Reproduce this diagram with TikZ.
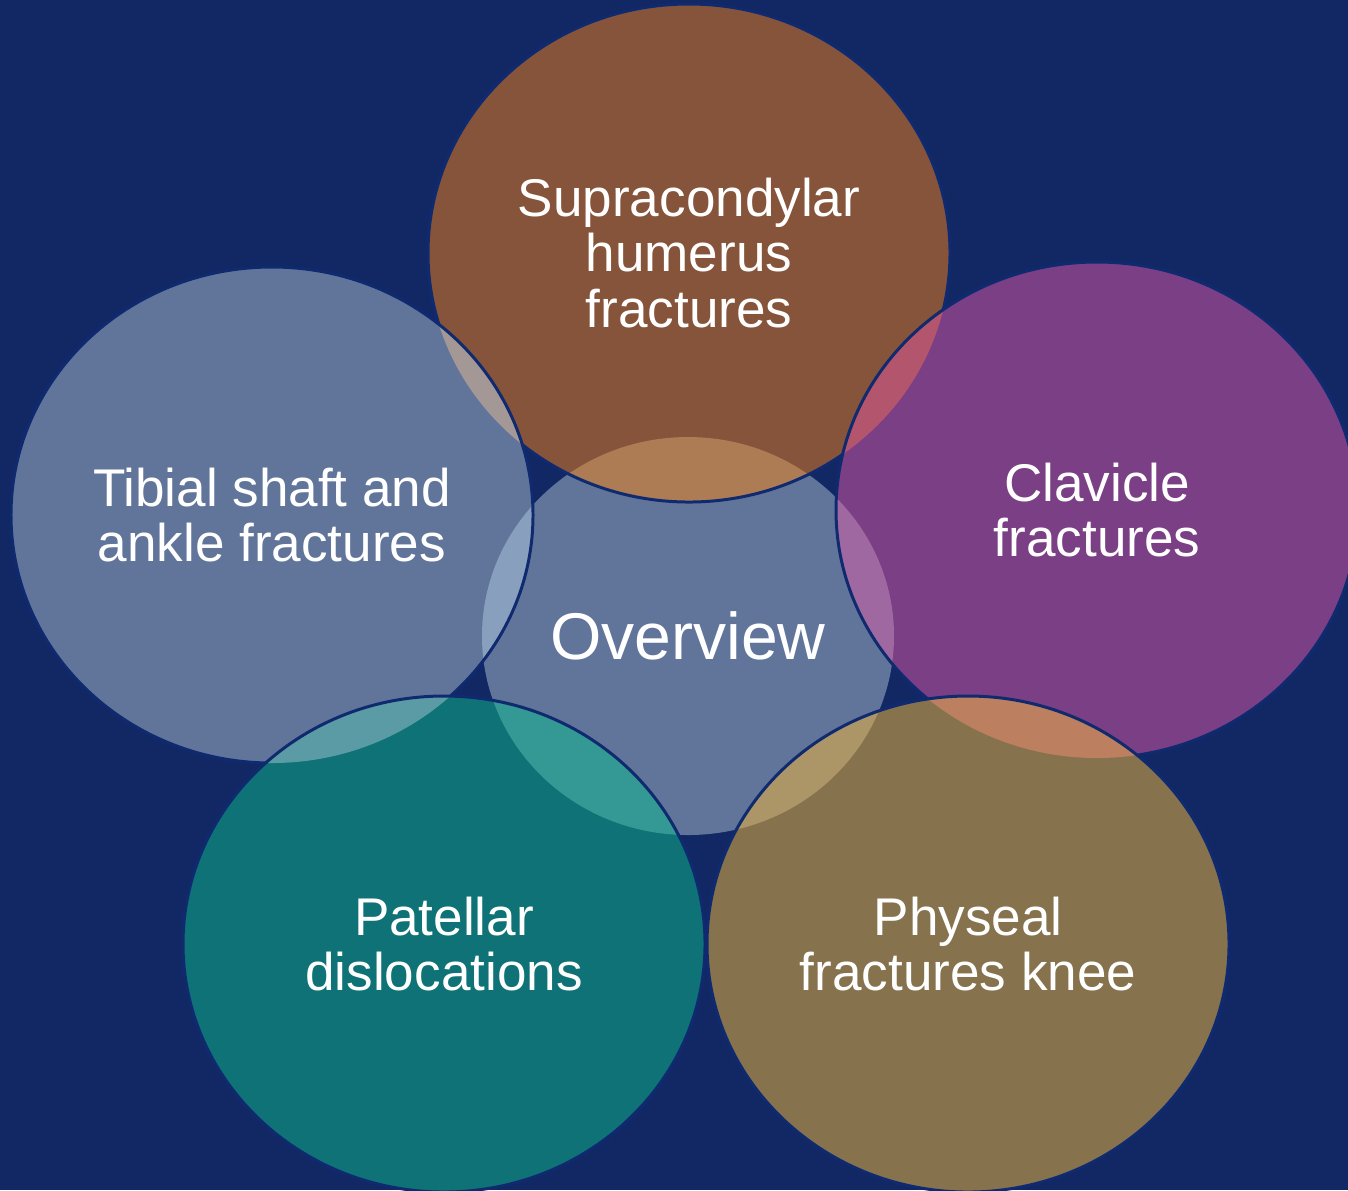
\documentclass[tikz,border=0pt]{standalone}
\usepackage{fontspec}
\setmainfont{Liberation Sans}
\definecolor{ovnavy}{RGB}{17,40,101}
\definecolor{ovline}{RGB}{16,42,112}
\definecolor{ovslate}{RGB}{97,117,155}
\definecolor{ovbrown}{RGB}{134,84,58}
\definecolor{ovpurple}{RGB}{122,63,132}
\definecolor{ovkhaki}{RGB}{135,114,78}
\definecolor{ovteal}{RGB}{14,114,118}
% overlap tints
\definecolor{ovbrownslate}{RGB}{173,123,84}
\definecolor{ovbrowntib}{RGB}{163,152,150}
\definecolor{ovpurplebrown}{RGB}{180,85,110}
\definecolor{ovpurpleslate}{RGB}{160,104,160}
\definecolor{ovkhakislate}{RGB}{172,150,104}
\definecolor{ovkhakipurple}{RGB}{188,128,96}
\definecolor{ovtibslate}{RGB}{136,160,190}
\definecolor{ovtealtib}{RGB}{90,155,165}
\definecolor{ovtealslate}{RGB}{52,152,148}
\usetikzlibrary{positioning}
% ellipse outlines
\newcommand{\ovCenterPath}{(688,636) ellipse [x radius=206, y radius=199]}
\newcommand{\ovTopPath}{(689,253) ellipse [x radius=261, y radius=249]}
\newcommand{\ovClavPath}{(1097,510) ellipse [x radius=261, y radius=248]}
\newcommand{\ovPhysPath}{(968,944) ellipse [x radius=261, y radius=248]}
\newcommand{\ovTibPath}{(272,515) ellipse [x radius=261, y radius=248]}
\newcommand{\ovPatPath}{(444,944) ellipse [x radius=261, y radius=248]}

\begin{document}
\begin{tikzpicture}[x=0.1mm, y=-0.1mm,
  rim/.style={draw=ovline, line width=0.85pt},
  partlabel/.style={text=white, align=center, inner sep=0pt,
    font=\fontsize{15.1}{15.7}\selectfont},
  hublabel/.style={text=white, inner sep=0pt,
    font=\fontsize{18.8}{20}\selectfont}]

\fill[ovnavy] (0,0) rectangle (1348,1190);
\useasboundingbox (0,0) rectangle (1348,1190);

% Overview
\fill[ovslate] \ovCenterPath;

% Supracondylar
\fill[ovbrown] \ovTopPath;
\begin{scope}
  \clip \ovTopPath;
  \fill[ovbrownslate] \ovCenterPath;
\end{scope}
\draw[rim] \ovTopPath;

% Clavicle
\fill[ovpurple] \ovClavPath;
\begin{scope}
  \clip \ovClavPath;
  \fill[ovpurpleslate] \ovCenterPath;
  \fill[ovpurplebrown] \ovTopPath;
\end{scope}
\draw[rim] \ovClavPath;

% Physeal
\fill[ovkhaki] \ovPhysPath;
\begin{scope}
  \clip \ovPhysPath;
  \fill[ovkhakislate] \ovCenterPath;
  \fill[ovkhakipurple] \ovClavPath;
\end{scope}
\draw[rim] \ovPhysPath;

% Tibial
\fill[ovslate] \ovTibPath;
\begin{scope}
  \clip \ovTibPath;
  \fill[ovtibslate] \ovCenterPath;
  \fill[ovbrowntib] \ovTopPath;
\end{scope}
\draw[rim] \ovTibPath;

% Patellar
\fill[ovteal] \ovPatPath;
\begin{scope}
  \clip \ovPatPath;
  \fill[ovtealslate] \ovCenterPath;
  \fill[ovtealtib] \ovTibPath;
\end{scope}
\draw[rim] \ovPatPath;

% Labels
\node[hublabel] (hub) at (688,636) {Overview};
\node[partlabel] (supra) at (689,253) {Supracondylar\\humerus\\fractures};
\node[partlabel] (clav) at (1097,510) {Clavicle\\fractures};
\node[partlabel] (phys) at (968,944) {Physeal\\fractures knee};
\node[partlabel] (patel) at (444,944) {Patellar\\dislocations};
\node[partlabel] (tibial) at (272,515) {Tibial shaft and\\ankle fractures};

\end{tikzpicture}
\end{document}
